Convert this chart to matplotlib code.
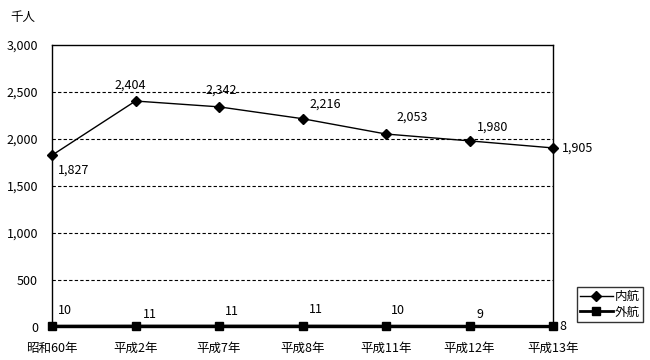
import matplotlib
matplotlib.use("Agg")
import matplotlib.pyplot as plt
from matplotlib.ticker import FuncFormatter

plt.rcParams['font.family'] = ['Noto Sans CJK JP', 'DejaVu Sans']

categories = ["昭和60年", "平成2年", "平成7年", "平成8年", "平成11年", "平成12年", "平成13年"]
domestic = [1827, 2404, 2342, 2216, 2053, 1980, 1905]
international = [10, 11, 11, 11, 10, 9, 8]

FS = 9

fig = plt.figure(figsize=(6.5, 3.6), dpi=100)
ax = fig.add_axes([52/650, 1-327/360, (553-52)/650, (327-45)/360])

x = list(range(len(categories)))
ax.plot(x, domestic, color='black', lw=1, marker='D', ms=5, label='内航', clip_on=False, zorder=3)
ax.plot(x, international, color='black', lw=2, marker='s', ms=6, label='外航', clip_on=False, zorder=3)

ax.set_xlim(0, 6)
ax.set_ylim(0, 3000)
ax.set_yticks(range(0, 3001, 500))
ax.yaxis.set_major_formatter(FuncFormatter(lambda v, p: f"{int(v):,}"))
ax.set_xticks(x)
ax.set_xticklabels(categories)
ax.tick_params(axis='both', length=0, labelsize=FS, colors='black')
ax.tick_params(axis='x', pad=11)
ax.tick_params(axis='y', pad=10)
for yv in range(500, 3000, 500):
    ax.axhline(yv, color='black', lw=0.8, ls=(0, (3, 2)), zorder=1)
for s in ax.spines.values():
    s.set_linewidth(1)
    s.set_color('black')

# px offsets converted to points
def off(dx, dy):
    return (dx * 0.72, dy * 0.72)

dom_off = [(6, -15, 'left'), (-5, 16, 'center'), (2, 17, 'center'), (7, 15, 'left'),
           (10, 17, 'left'), (7, 14, 'left'), (9, 0, 'left')]
for i, v in enumerate(domestic):
    dx, dy, ha = dom_off[i]
    ax.annotate(f"{v:,}", (i, v), xytext=off(dx, dy), textcoords='offset points',
                ha=ha, va='center', fontsize=FS)

int_off = [(13, 16), (14, 11), (13, 14), (13, 16), (12, 16), (10, 12), (10, 0)]
for i, v in enumerate(international):
    dx, dy = int_off[i]
    ax.annotate(f"{v}", (i, v), xytext=off(dx, dy), textcoords='offset points',
                ha='center', va='center', fontsize=FS)

fig.text(10/650, 1-18/360, "千人", fontsize=FS, va='center', ha='left')

leg = fig.legend(loc='upper left', bbox_to_anchor=(577/650, 1-287/360), frameon=True,
                 fancybox=False, edgecolor='black', fontsize=FS, handlelength=2.6,
                 borderpad=0.25, labelspacing=0.2, handletextpad=0.2, borderaxespad=0)
leg.get_frame().set_linewidth(1)

fig.savefig("out.png", dpi=100)
